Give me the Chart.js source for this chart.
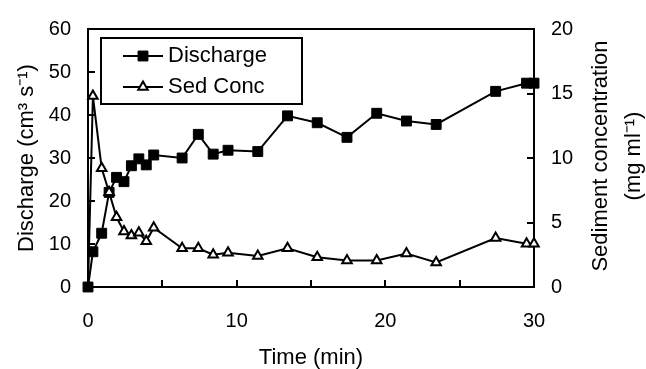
<!DOCTYPE html>
<html>
<head>
<meta charset="utf-8">
<script src="https://cdn.jsdelivr.net/npm/chart.js@4.4.0/dist/chart.umd.min.js"></script>
<style>
  html, body { margin: 0; padding: 0; background: #fff; }
  #wrap { width: 646px; height: 369px; }
</style>
</head>
<body>
<div id="wrap"><canvas id="chart" width="646" height="369"></canvas></div>
<script>
// Sampling times (min), shared by both series
const times = [0, 0.33, 0.92, 1.42, 1.92, 2.42, 2.92, 3.42, 3.92, 4.42, 6.33, 7.42, 8.42, 9.42,
               11.42, 13.42, 15.42, 17.42, 19.42, 21.42, 23.42, 27.42, 29.5, 30];
// Discharge (cm3 s-1)
const discharge = [0, 8.2, 12.5, 22, 25.5, 24.5, 28.2, 29.8, 28.4, 30.7, 30, 35.5, 30.9, 31.8,
                   31.5, 39.8, 38.2, 34.8, 40.4, 38.6, 37.8, 45.5, 47.4, 47.4];
// Sediment concentration (mg ml-1)
const sedConc = [0, 14.8, 9.2, 7.35, 5.4, 4.3, 4.0, 4.2, 3.55, 4.6, 3.0, 3.0, 2.5, 2.65,
                 2.4, 3.0, 2.3, 2.05, 2.05, 2.6, 1.9, 3.8, 3.35, 3.35];

const seriesNames = ['Discharge', 'Sed Conc'];
const xTitle = 'Time (min)';
const yTitle = 'Discharge (cm³ s⁻¹)';
const y2Title = ['Sediment concentration', '(mg ml⁻¹)'];

const FONT = "'Liberation Sans', Arial, sans-serif";
const markerSize = [7, 5.5];

const toPoints = (ys) => times.map((t, i) => ({ x: t, y: ys[i] }));

// Box around the plot and inward tick marks
const framePlugin = {
    id: 'frame',
    beforeDatasetsDraw(chart) {
        const ctx = chart.ctx;
        const a = chart.chartArea;
        const { x, y, y2 } = chart.scales;
        ctx.save();
        ctx.strokeStyle = '#000';
        ctx.lineWidth = 2;
        ctx.strokeRect(a.left, a.top, a.right - a.left, a.bottom - a.top);
        ctx.beginPath();
        x.ticks.forEach(t => {
            if (t.value <= x.min || t.value >= x.max) return;
            const px = Math.round(x.getPixelForValue(t.value));
            ctx.moveTo(px, a.bottom); ctx.lineTo(px, a.bottom - 7);
        });
        y.ticks.forEach(t => {
            if (t.value <= y.min || t.value >= y.max) return;
            const py = Math.round(y.getPixelForValue(t.value));
            ctx.moveTo(a.left, py); ctx.lineTo(a.left + 7, py);
        });
        y2.ticks.forEach(t => {
            if (t.value <= y2.min || t.value >= y2.max) return;
            const py = Math.round(y2.getPixelForValue(t.value));
            ctx.moveTo(a.right, py); ctx.lineTo(a.right - 7, py);
        });
        ctx.stroke();
        ctx.restore();
    },
    afterDraw(chart) {
        // right axis title, reading bottom to top like the left one
        const ctx = chart.ctx;
        const y2 = chart.scales.y2;
        const cy = (y2.top + y2.bottom) / 2;
        ctx.save();
        ctx.fillStyle = '#000';
        ctx.font = '22px ' + FONT;
        ctx.textAlign = 'center';
        ctx.textBaseline = 'middle';
        [[y2.right - 45, y2Title[0]], [y2.right - 12, y2Title[1]]].forEach(([cx, txt]) => {
            ctx.save();
            ctx.translate(cx, cy - 2);
            ctx.rotate(-Math.PI / 2);
            ctx.fillText(txt, 0, 0);
            ctx.restore();
        });
        ctx.restore();
    }
};

// Boxed legend inside the plot, top left
const legendPlugin = {
    id: 'boxLegend',
    afterDatasetsDraw(chart) {
        const ctx = chart.ctx;
        const a = chart.chartArea;
        const bx = a.left + 13, by = a.top + 9;
        ctx.save();
        ctx.strokeStyle = '#000';
        ctx.lineWidth = 2;
        ctx.fillStyle = '#fff';
        ctx.fillRect(bx, by, 201, 66);
        ctx.strokeRect(bx, by, 201, 66);
        ctx.font = '22px ' + FONT;
        ctx.textBaseline = 'middle';
        chart.data.datasets.forEach((ds, i) => {
            const ly = by + 18 + i * 31;
            ctx.beginPath();
            ctx.lineWidth = 2;
            ctx.strokeStyle = '#000';
            ctx.moveTo(bx + 22, ly); ctx.lineTo(bx + 62, ly);
            ctx.stroke();
            ctx.fillStyle = ds.pointBackgroundColor;
            ctx.strokeStyle = ds.pointBorderColor;
            ctx.lineWidth = ds.pointBorderWidth;
            Chart.helpers.drawPoint(ctx, {
                pointStyle: ds.pointStyle, radius: markerSize[i], rotation: 0,
                borderWidth: ds.pointBorderWidth
            }, bx + 42, ly);
            ctx.fillStyle = '#000';
            ctx.fillText(ds.label, bx + 67, ly);
        });
        ctx.restore();
    }
};

const ctx = document.getElementById('chart').getContext('2d');
const chart = new Chart(ctx, {
    type: 'line',
    data: {
        datasets: [{
            label: seriesNames[0],
            data: toPoints(discharge),
            yAxisID: 'y',
            clip: false,
            borderColor: '#000',
            borderWidth: 2,
            pointStyle: 'rect',
            pointRadius: markerSize[0],
            pointBackgroundColor: '#000',
            pointBorderColor: '#000',
            pointBorderWidth: 1,
            order: 1
        }, {
            label: seriesNames[1],
            data: toPoints(sedConc),
            yAxisID: 'y2',
            clip: false,
            borderColor: '#000',
            borderWidth: 2,
            pointStyle: 'triangle',
            // the origin marker sits hidden under the discharge square
            pointRadius: c => (c.dataIndex === 0 ? 0 : markerSize[1]),
            pointBackgroundColor: '#fff',
            pointBorderColor: '#000',
            pointBorderWidth: 2,
            order: 0
        }]
    },
    options: {
        responsive: false,
        animation: false,
        layout: { padding: { top: 23, left: 0, right: 0, bottom: 0 } },
        plugins: {
            legend: { display: false },
            tooltip: { enabled: false }
        },
        scales: {
            x: {
                type: 'linear',
                min: 0, max: 30,
                grid: { display: false, drawTicks: false },
                border: { display: false },
                ticks: {
                    stepSize: 5, color: '#000', padding: 22,
                    font: { family: FONT, size: 20 },
                    callback: v => (v % 10 === 0 ? v : '')
                },
                title: {
                    display: true, text: xTitle, color: '#000',
                    font: { family: FONT, size: 22, lineHeight: 1 },
                    padding: { top: 0, bottom: 0 }
                },
                afterFit: s => { s.height = 82; }
            },
            y: {
                position: 'left',
                min: 0, max: 60,
                grid: { display: false, drawTicks: false },
                border: { display: false },
                ticks: {
                    stepSize: 5, color: '#000', padding: 17,
                    font: { family: FONT, size: 20 },
                    callback: v => (v % 10 === 0 ? v : '')
                },
                title: {
                    display: true, text: yTitle, color: '#000',
                    font: { family: FONT, size: 22, lineHeight: 1 },
                    padding: { top: 16, bottom: 0 }
                },
                afterFit: s => { s.width = 88; }
            },
            y2: {
                position: 'right',
                min: 0, max: 20,
                grid: { display: false, drawTicks: false },
                border: { display: false },
                ticks: {
                    stepSize: 5, color: '#000', padding: 17,
                    font: { family: FONT, size: 20 }
                },
                afterFit: s => { s.width = 112; }
            }
        }
    },
    plugins: [framePlugin, legendPlugin]
});
</script>
</body>
</html>
